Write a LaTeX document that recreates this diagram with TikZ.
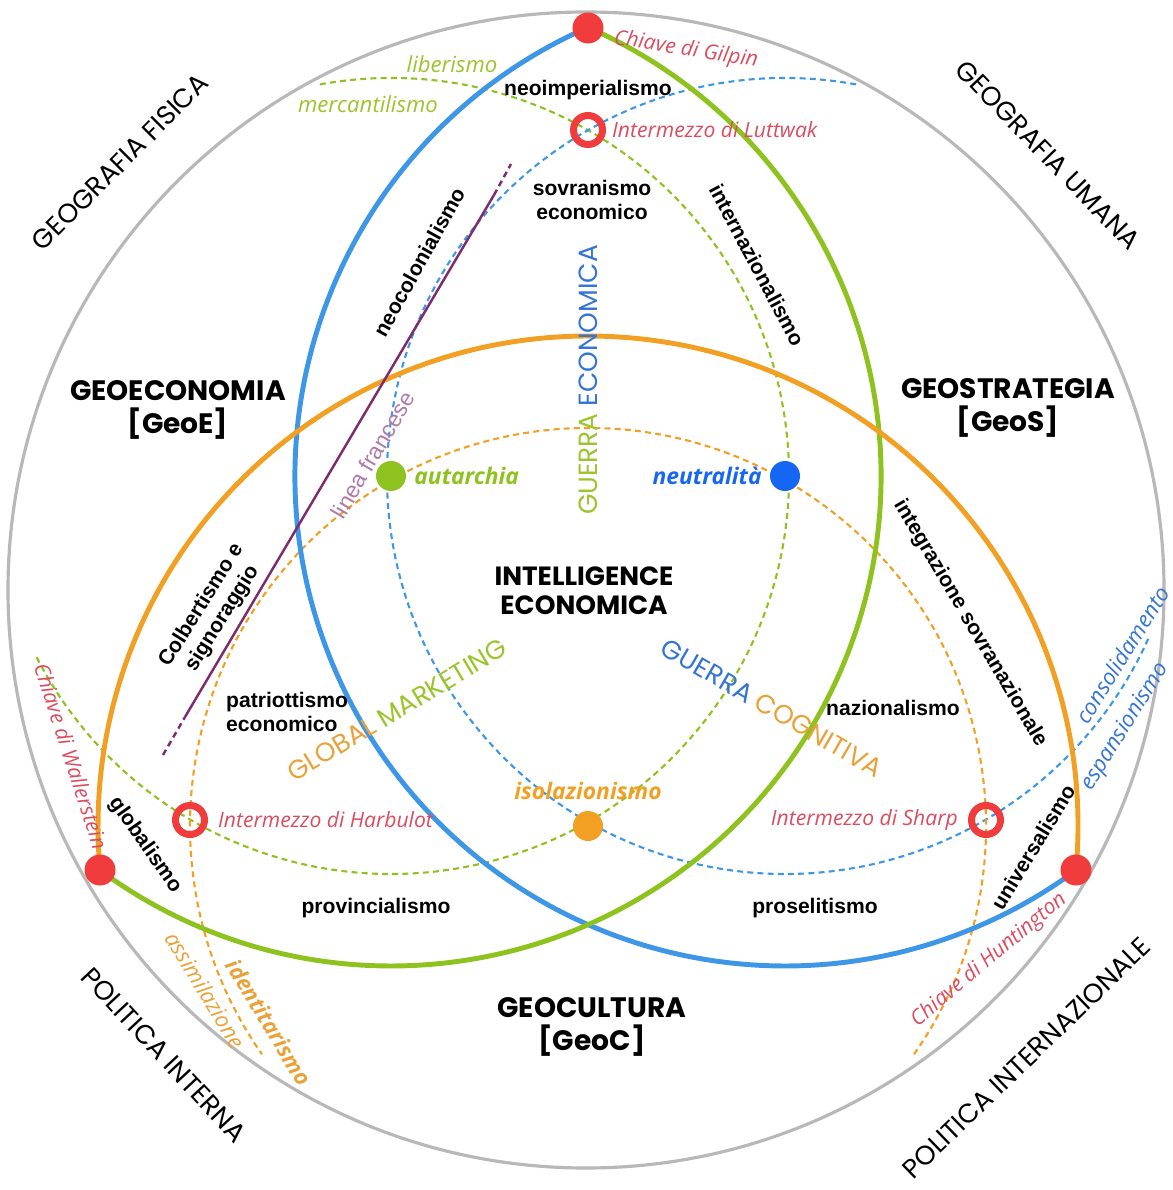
\documentclass[tikz,border=0pt]{standalone}
\usepackage{fontspec}
\setmainfont{Liberation Sans}
\newfontfamily\headfont{Poppins}
\newfontfamily\notefont{Open Sans}
\usepackage{tikz}
\usetikzlibrary{positioning}

\definecolor{ringgray}{HTML}{B8B8B8}
\definecolor{geoblue}{HTML}{3D97E6}
\definecolor{geogreen}{HTML}{8DC21F}
\definecolor{geoorange}{HTML}{F2A024}
\definecolor{keyred}{HTML}{F03C3C}
\definecolor{keytext}{HTML}{DC4B5E}
\definecolor{dotblue}{HTML}{1566F2}
\definecolor{textblue}{HTML}{3474D4}
\definecolor{textgreen}{HTML}{9CC42C}
\definecolor{textorange}{HTML}{E9A23A}
\definecolor{francia}{HTML}{7E2C6E}
\definecolor{franciatext}{HTML}{B07AA8}

\begin{document}
\begin{tikzpicture}[
  solidarc/.style={line width=1.4pt},
  dasharc/.style={line width=0.6pt, dash pattern=on 1.7pt off 1.2pt},
  keydot/.style={circle, fill=keyred, inner sep=0pt, minimum size=0.31cm},
  ringdot/.style={circle, draw=keyred, line width=2pt, inner sep=0pt, minimum size=0.29cm},
  hub/.style={circle, inner sep=0pt, minimum size=0.3cm},
  hublabel/.style={font=\notefont\bfseries\itshape\fontsize{6.5}{7.5}\selectfont, inner sep=0pt},
  term/.style={font=\bfseries\fontsize{6}{7}\selectfont, align=center, inner sep=1pt},
  keylabel/.style={font=\notefont\itshape\fontsize{6}{7}\selectfont, text=keytext, inner sep=1pt},
  notes/.style={font=\notefont\itshape\fontsize{6.3}{7}\selectfont, inner sep=1pt},
  region/.style={font=\headfont\bfseries\fontsize{8}{9.5}\selectfont, align=center},
  side/.style={font=\headfont\fontsize{7.6}{8}\selectfont},
  bigword/.style={font=\headfont\fontsize{7.5}{8}\selectfont},
  ]

\useasboundingbox (0,0) rectangle (11.72,-11.90);

\coordinate (A) at (3.91,-4.76);
\coordinate (N) at (7.85,-4.76);
\coordinate (I) at (5.88,-8.26);

\draw [color=ringgray, line width=0.9pt] (5.86,-5.90) circle (5.78);

\draw [dasharc, color=geogreen] (A) ++(100.3:3.98) arc[start angle=100.3, end angle=-153.3, radius=3.98];
\draw [dasharc, color=geoblue] (N) ++(79.7:3.98) arc[start angle=79.7, end angle=336, radius=3.98];
\draw [dasharc, color=geoorange] (I) ++(-35:3.98) arc[start angle=-35, end angle=215, radius=3.98];

\draw [solidarc, color=geoblue] (N) ++(113.7:4.9) arc[start angle=113.7, end angle=306.4, radius=4.9];
\draw [solidarc, color=geogreen] (A) ++(66.3:4.9) arc[start angle=66.3, end angle=-126.4, radius=4.9];
\draw [solidarc, color=geoorange] (I) ++(-5.2:4.9) arc[start angle=-5.2, end angle=185.2, radius=4.9];

\coordinate (fr1) at (1.63,-7.55);
\coordinate (fr2) at (1.85,-7.17);
\coordinate (fr3) at (4.94,-1.95);
\coordinate (fr4) at (5.11,-1.64);
\draw [color=francia, line width=0.7pt] (fr2)--(fr3);
\draw [color=francia, line width=0.7pt, dash pattern=on 1.7pt off 1.2pt] (fr1)--(fr2) (fr3)--(fr4);

\node [keydot] (gilpin) at (5.88,-0.28) {};
\node [keydot] (wallerstein) at (1.00,-8.70) {};
\node [keydot] (huntington) at (10.76,-8.70) {};

\node [ringdot] (luttwak) at (5.88,-1.30) {};
\node [ringdot] (harbulot) at (1.90,-8.20) {};
\node [ringdot] (sharp) at (9.86,-8.20) {};

\node [hub, fill=geogreen] (autarchia) at (A) {};
\node [hub, fill=dotblue] (neutralita) at (N) {};
\node [hub, fill=geoorange] (isolazionismo) at (I) {};

\node [hublabel, text=geogreen, right=0.07cm of autarchia] (autarchia label) {autarchia};
\node [hublabel, text=dotblue, left=0.07cm of neutralita] (neutralita label) {neutralità};
\node [hublabel, text=geoorange, above=0.1cm of isolazionismo] (isolazionismo label) {isolazionismo};

\node [keylabel, rotate=-9] (gilpin label) at (6.86,-0.50) {Chiave di Gilpin};
\node [keylabel, right=0.02cm of luttwak] (luttwak label) {Intermezzo di Luttwak};
\node [keylabel, right=0.06cm of harbulot] (harbulot label) {Intermezzo di Harbulot};
\node [keylabel, left=0.06cm of sharp] (sharp label) {Intermezzo di Sharp};
\node [keylabel, rotate=-72] (wallerstein label) at (0.71,-7.56) {Chiave di Wallerstein};
\node [keylabel, rotate=40] (huntington label) at (9.89,-9.60) {Chiave di Huntington};

\node [region] (geoe) at (1.78,-4.10) {GEOECONOMIA\\{[GeoE]}};
\node [region] (geos) at (10.08,-4.08) {GEOSTRATEGIA\\{[GeoS]}};
\node [region] (geoc) at (5.92,-10.27) {GEOCULTURA\\{[GeoC]}};
\node [region, font=\headfont\bfseries\fontsize{7.5}{8.2}\selectfont] (ie) at (5.84,-5.91) {INTELLIGENCE\\ECONOMICA};

\node [side, rotate=45] (fisica) at (1.20,-1.62) {GEOGRAFIA FISICA};
\node [side, rotate=-46] (umana) at (10.48,-1.55) {GEOGRAFIA UMANA};
\node [side, rotate=-47] (interna) at (1.64,-10.55) {POLITICA INTERNA};
\node [side, rotate=44] (internazionale) at (10.26,-10.58) {POLITICA INTERNAZIONALE};

\node [bigword, rotate=90] (guerra eco) at (5.88,-3.80) {\textcolor{textgreen}{GUERRA} \textcolor{textblue}{ECONOMICA}};
\node [bigword, rotate=31] (global mkt) at (3.97,-7.10) {\textcolor{textorange}{GLOBAL} \textcolor{textgreen}{MARKETING}};
\node [bigword, rotate=-30] (guerra cog) at (7.72,-7.08) {\textcolor{textblue}{GUERRA} \textcolor{textorange}{COGNITIVA}};

\node [term] (neoimp) at (5.88,-0.90) {neoimperialismo};
\node [term] (sovran) at (5.92,-2.00) {sovranismo\\economico};
\node [term, rotate=61] (neocol) at (4.19,-2.62) {neocolonialismo};
\node [term, rotate=-62] (internaz) at (7.57,-2.65) {internazionalismo};
\node [term, rotate=58] (colbert) at (2.12,-6.12) {Colbertismo e\\signoraggio};
\node [term, align=left, anchor=west] (patriot) at (2.22,-7.12) {patriottismo\\economico};
\node [term] (provinc) at (3.76,-9.08) {provincialismo};
\node [term] (prosel) at (8.15,-9.08) {proselitismo};
\node [term] (nazional) at (8.93,-7.08) {nazionalismo};
\node [term, rotate=-59.5] (integr) at (9.70,-6.23) {integrazione sovranazionale};
\node [term, rotate=-55] (globalismo) at (1.45,-8.45) {globalismo};
\node [term, rotate=58.7] (universalismo) at (10.33,-8.47) {universalismo};

\node [notes, text=textgreen] (liberismo) at (4.52,-0.64) {liberismo};
\node [notes, text=textgreen] (mercant) at (3.68,-1.04) {mercantilismo};
\node [notes, text=textorange, rotate=-58.6] (assimil) at (2.05,-9.90) {assimilazione};
\node [notes, text=textorange, font=\notefont\bfseries\itshape\fontsize{6.3}{7}\selectfont, rotate=-58.6] (identit) at (2.69,-10.22) {identitarismo};
\node [notes, text=textblue, rotate=58] (consol) at (11.22,-6.55) {consolidamento};
\node [notes, text=textblue, rotate=58] (espans) at (11.25,-7.27) {espansionismo};
\node [font=\fontsize{6.5}{7}\selectfont, text=franciatext, rotate=59.5] (linea) at (3.73,-4.55) {linea francese};

\end{tikzpicture}
\end{document}
